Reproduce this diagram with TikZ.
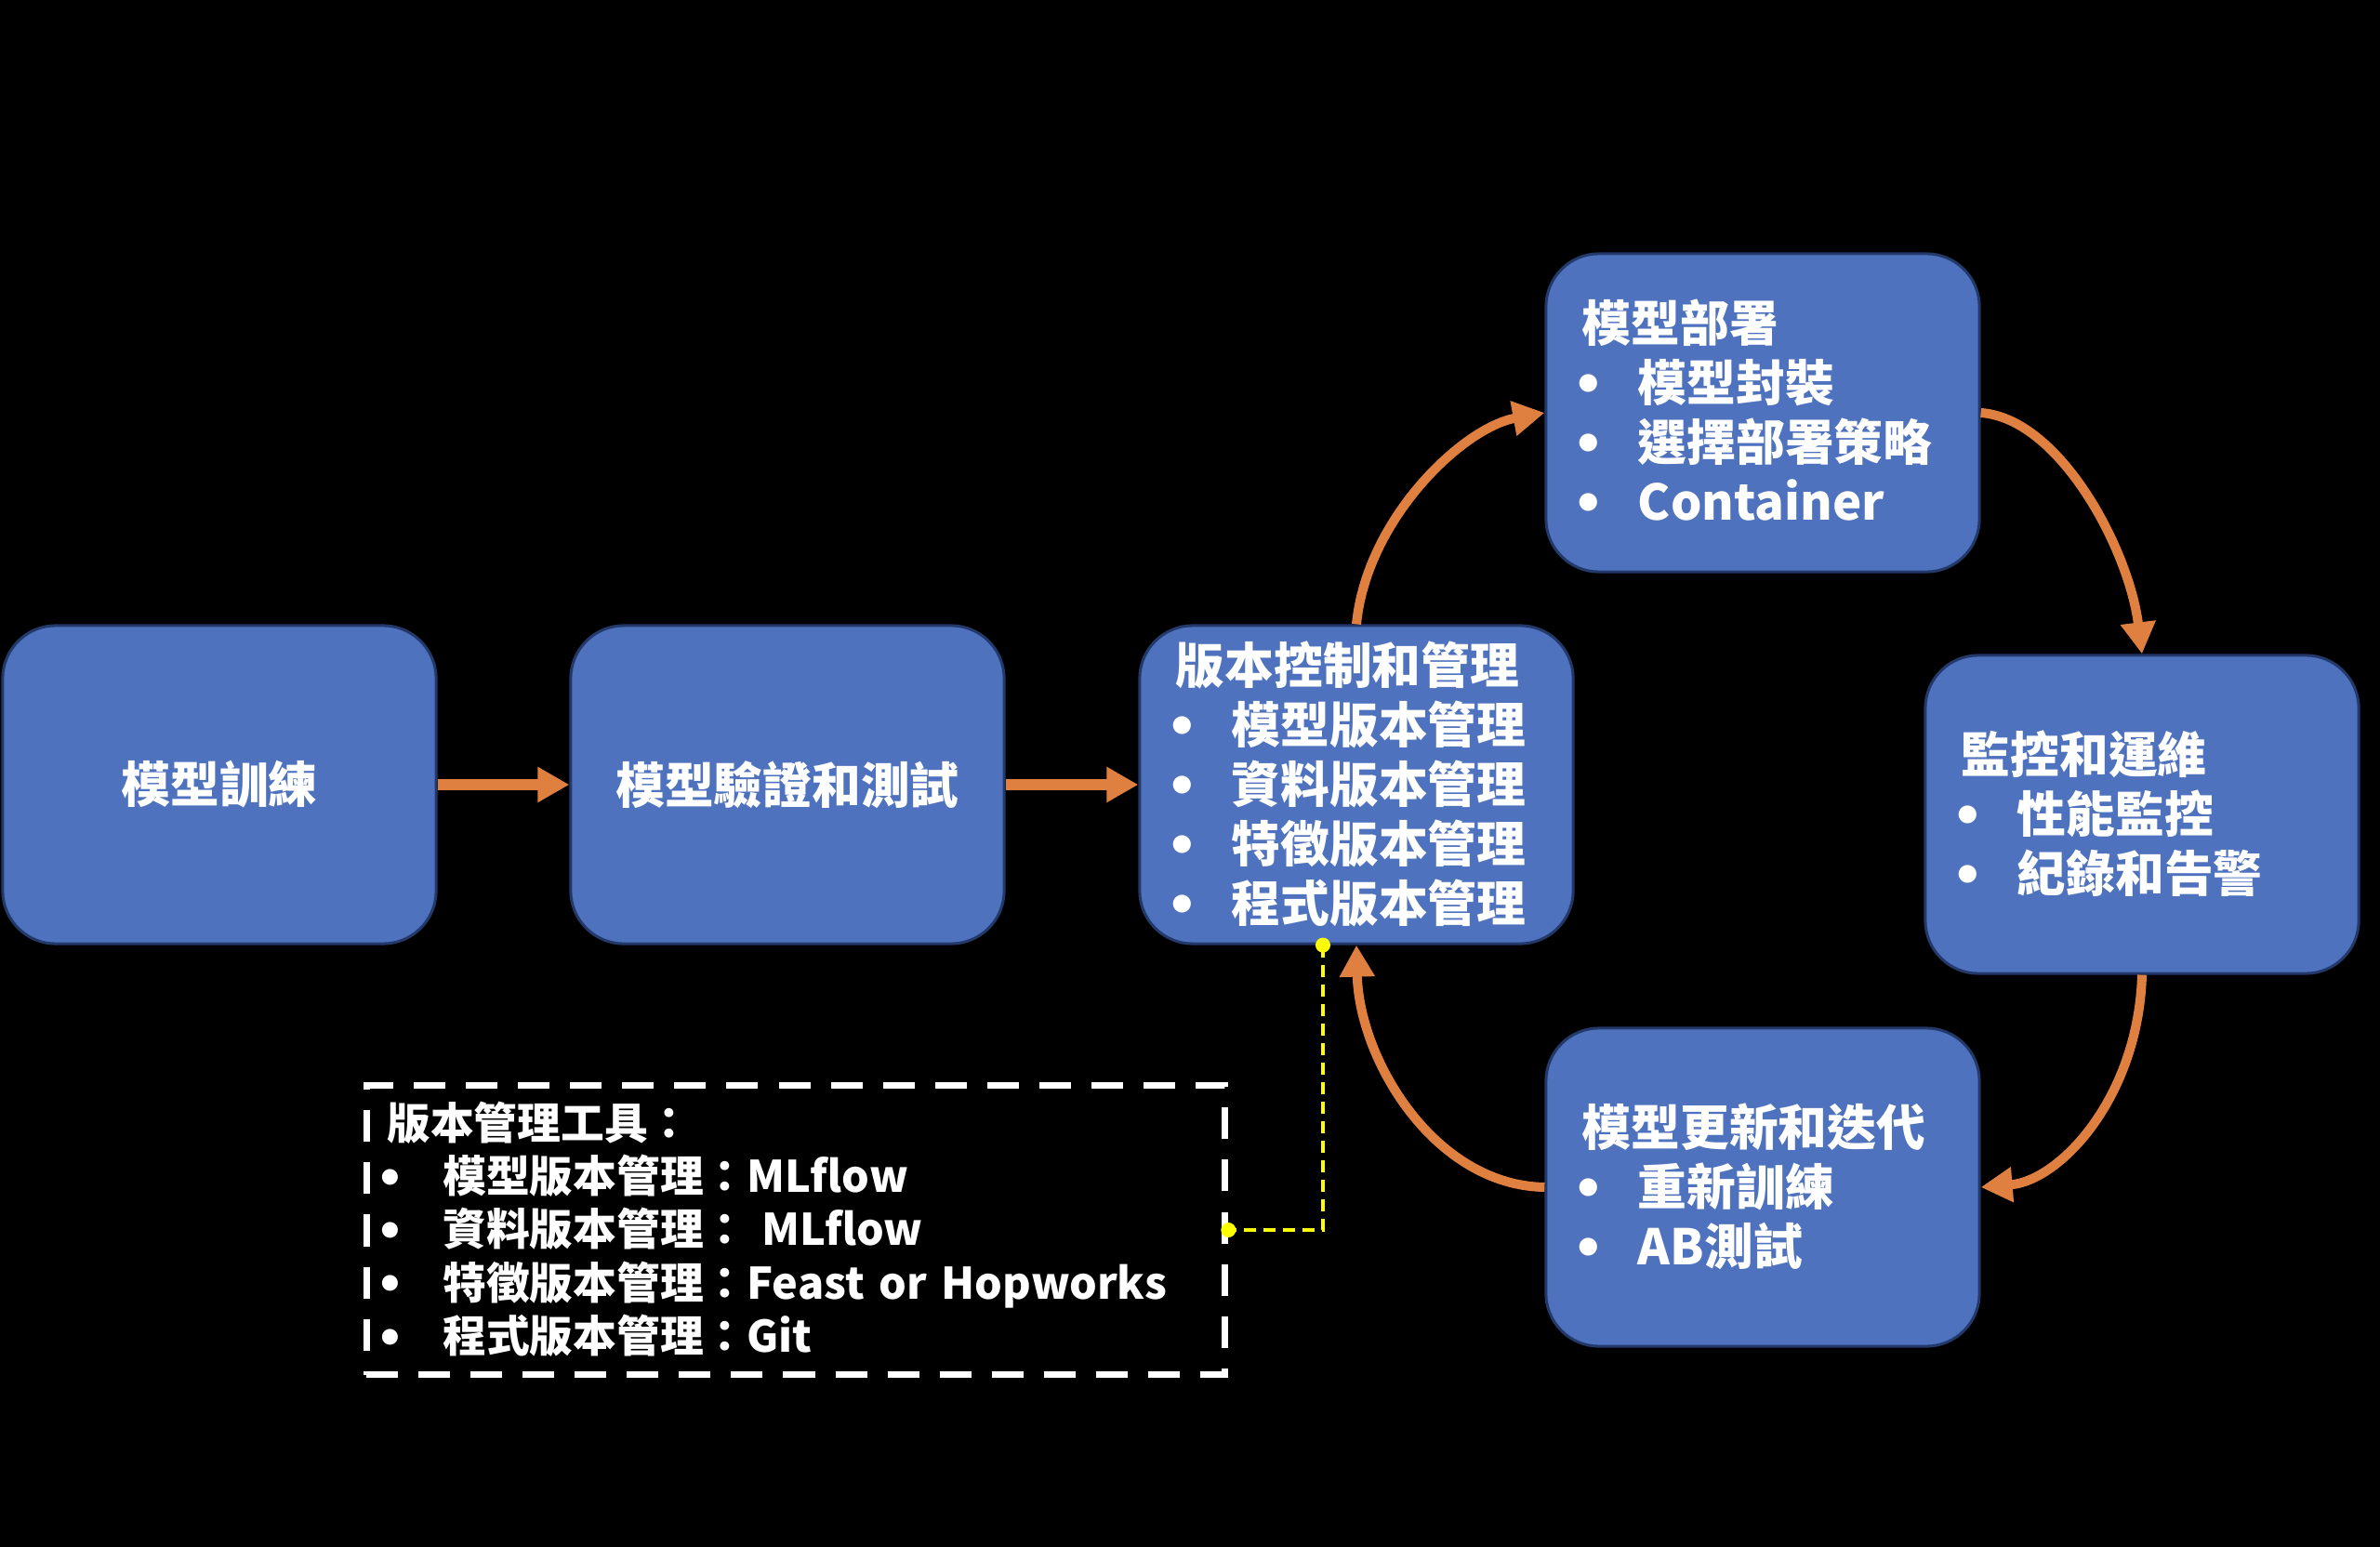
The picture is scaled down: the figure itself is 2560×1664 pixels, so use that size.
\documentclass[tikz,border=0pt]{standalone}
\usepackage{fontspec}
\setmainfont{Noto Sans CJK TC}
\usetikzlibrary{arrows.meta}
\definecolor{boxfill}{HTML}{4F72BE}
\definecolor{boxline}{HTML}{22396A}
\definecolor{arr}{HTML}{E08040}
\definecolor{yel}{HTML}{FFFF00}
\newcommand\blt[1]{\makebox[0.6cm][l]{\hspace{-0.27cm}\raisebox{-0.065cm}{\scalebox{1.3}{•}}}#1}
\tikzset{
  stage/.style={draw=boxline, line width=0.03cm, fill=boxfill, rounded corners=0.57cm,
    minimum width=4.66cm, minimum height=3.42cm, text=white, inner sep=0pt,
    font=\bfseries\fontsize{15pt}{18.2pt}\selectfont, align=center},
  liststage/.style={stage, text width=3.88cm, align=left},
  flow/.style={draw=arr, line width=0.12cm, -{Triangle[length=0.34cm,width=0.36cm]}},
  cyc/.style={draw=arr, line width=0.10cm, -{Triangle[length=0.34cm,width=0.36cm]}},
  toolbox/.style={draw=white, line width=0.07cm, dash pattern=on 0.34cm off 0.22cm,
    minimum width=9.23cm, minimum height=3.11cm, text width=8.79cm, align=left,
    text=white, inner sep=0pt, font=\bfseries\fontsize{13.3pt}{16.3pt}\selectfont},
  link/.style={draw=yel, line width=0.035cm, dash pattern=on 0.13cm off 0.08cm},
  dot/.style={fill=yel}
}
\begin{document}
\begin{tikzpicture}[x=0.01cm,y=-0.01cm]
\fill[black] (0,0) rectangle (2560,1664);
\useasboundingbox (0,0) rectangle (2560,1664);

\node[stage] (b1) at (236,844) {模型訓練};
\node[stage] (b2) at (847,844) {模型驗證和測試};
\node[liststage] (b3) at (1459,844) {版本控制和管理\\\blt{模型版本管理}\\\blt{資料版本管理}\\\blt{特徵版本管理}\\\blt{程式版本管理}};
\node[liststage] (b4) at (1896,444) {模型部署\\\blt{模型封裝}\\\blt{選擇部署策略}\\\blt{Container}};
\node[liststage] (b5) at (2304,876) {監控和運維\\\blt{性能監控}\\\blt{紀錄和告警}};
\node[liststage] (b6) at (1896,1277) {模型更新和迭代\\\blt{重新訓練}\\\blt{AB測試}};

\node[toolbox] (tools) at (856,1323) {版本管理工具：\\\blt{模型版本管理：MLflow}\\\blt{資料版本管理： MLflow}\\\blt{特徵版本管理：Feast or Hopworks}\\\blt{程式版本管理：Git}};

\draw[flow] (b1.east) -- (b2.west);
\draw[flow] (b2.east) -- (b3.west);

\draw[cyc] (b3.north) .. controls +(11,-113) and +(-88,16) .. (b4.west);
\draw[cyc] (b4.east) .. controls +(85,6) and +(-14,-112) .. (b5.north);
\draw[cyc] (b5.south) .. controls +(-4,132) and +(85,-7) .. (b6.east);
\draw[cyc] (b6.west) .. controls +(-118,-2) and +(3,124) .. (b3.south);

\coordinate (lk) at ([xshift=-0.36cm]b3.south);
\draw[link] (lk) |- (tools.east);
\fill[dot] (lk) circle (0.08cm);
\fill[dot] (tools.east) circle (0.08cm);
\end{tikzpicture}
\end{document}
